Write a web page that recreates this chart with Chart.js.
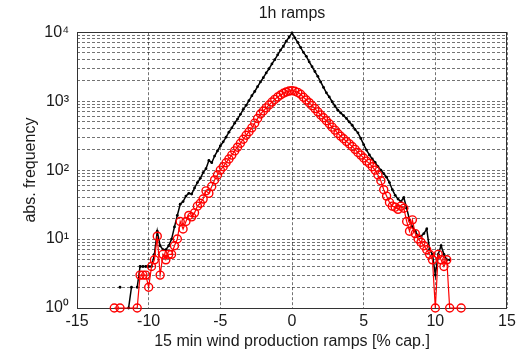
<!DOCTYPE html>
<html>
<head>
<meta charset="utf-8">
<script src="https://cdn.jsdelivr.net/npm/chart.js@4.4.0/dist/chart.umd.min.js"></script>
<style>
  html, body { margin: 0; padding: 0; background: #fff; }
</style>
</head>
<body>
<canvas id="rampChart" width="520" height="354"></canvas>
<script>
// ramp size bins [% of capacity]
const rampBins = [
  -12.4, -12.2, -12.0, -11.8, -11.6, -11.4, -11.2, -11.0, -10.8, -10.6,
  -10.4, -10.2, -10.0, -9.8, -9.6, -9.4, -9.2, -9.0, -8.8, -8.6,
  -8.4, -8.2, -8.0, -7.8, -7.6, -7.4, -7.2, -7.0, -6.8, -6.6,
  -6.4, -6.2, -6.0, -5.8, -5.6, -5.4, -5.2, -5.0, -4.8, -4.6,
  -4.4, -4.2, -4.0, -3.8, -3.6, -3.4, -3.2, -3.0, -2.8, -2.6,
  -2.4, -2.2, -2.0, -1.8, -1.6, -1.4, -1.2, -1.0, -0.8, -0.6,
  -0.4, -0.2, 0, 0.2, 0.4, 0.6, 0.8, 1.0, 1.2, 1.4,
  1.6, 1.8, 2.0, 2.2, 2.4, 2.6, 2.8, 3.0, 3.2, 3.4,
  3.6, 3.8, 4.0, 4.2, 4.4, 4.6, 4.8, 5.0, 5.2, 5.4,
  5.6, 5.8, 6.0, 6.2, 6.4, 6.6, 6.8, 7.0, 7.2, 7.4,
  7.6, 7.8, 8.0, 8.2, 8.4, 8.6, 8.8, 9.0, 9.2, 9.4,
  9.6, 9.8, 10.0, 10.2, 10.4, 10.6, 10.8, 11.0, 11.2, 11.4,
  11.6, 11.8
];

// black: all 15 min ramps (null = empty bin)
const allRamps = [
  null, null, 2, null, null, 1, 2, null, 2, 4,
  4, 4, 4, 4, 6, 13, 8, 7, 7, 8,
  10, 15, 22, 32, 35, 42, 46, 45, 55, 66,
  76, 92, 105, 138, 128, 160, 190, 224, 257, 300,
  355, 410, 480, 550, 645, 760, 870, 1020, 1200, 1380,
  1620, 1900, 2190, 2570, 2950, 3470, 4000, 4700, 5500, 6300,
  7400, 8500, 9800, 8300, 7100, 6000, 5100, 4470, 3720, 3160,
  2690, 2290, 1900, 1580, 1320, 1150, 980, 850, 740, 676,
  617, 562, 500, 447, 389, 347, 288, 234, 195, 166,
  145, 129, 112, 100, 89, 79, 66, 52, 43, 38,
  35, 40, 28, 19, 15, 13, 11, 11, 12, 14,
  7, 6, 3, 6, 8, 6, 5, 5, null, null,
  null, null
];

// red: ramps within the 1h window
const hourRamps = [
  1, null, 1, null, null, null, null, null, 1, 3,
  3, 3, 2, 4, 5, 11, 3, 6, 5, 6,
  6, 8, 10, 18, 14, 18, 22, 21, 24, 30,
  33, 38, 50, 46, 58, 72, 85, 100, 112, 128,
  145, 165, 190, 215, 245, 280, 320, 360, 410, 480,
  560, 650, 720, 800, 880, 970, 1060, 1150, 1230, 1300,
  1360, 1400, 1420, 1390, 1340, 1260, 1140, 1040, 950, 860,
  780, 700, 630, 575, 520, 470, 420, 380, 340, 310,
  285, 260, 240, 220, 200, 180, 165, 150, 135, 125,
  112, 100, 85, 70, 52, 42, 34, 30, 29, 27,
  30, 28, 18, 13, 19, 12, 10, 9, 8, 7,
  6, 5, 1, 6, 5, 4, 5, 1, null, null,
  null, 1
];

// log grid lines and labelled decades
const freqTicks = [
  1, 2, 3, 4, 5, 6, 7, 8, 9,
  10, 20, 30, 40, 50, 60, 70, 80, 90,
  100, 200, 300, 400, 500, 600, 700, 800, 900,
  1000, 2000, 3000, 4000, 5000, 6000, 7000, 8000, 9000,
  10000
];
const decadeLabels = { 1: '10⁰', 10: '10¹', 100: '10²', 1000: '10³', 10000: '10⁴' };

const FONT = "'Liberation Sans', Arial, sans-serif";
const TEXT = '#1a1a1a';
const GRID = 'rgba(0, 0, 0, 0.55)';

function toPoints(values) {
    return rampBins.map((x, i) => ({ x: x, y: values[i] }));
}

const boxPlugin = {
    id: 'axesBox',
    beforeDatasetsDraw(chart) {
        const { ctx, chartArea: a } = chart;
        ctx.save();
        ctx.strokeStyle = '#333';
        ctx.lineWidth = 1;
        ctx.strokeRect(Math.round(a.left) + 0.5, Math.round(a.top) + 0.5,
            Math.round(a.width) - 1, Math.round(a.height));
        ctx.restore();
    }
};

new Chart(document.getElementById('rampChart'), {
    type: 'line',
    data: {
        datasets: [{
            label: '1h',
            data: toPoints(hourRamps),
            borderColor: '#ff0000',
            backgroundColor: 'rgba(0, 0, 0, 0)',
            borderWidth: 1.2,
            pointRadius: 4,
            pointBorderWidth: 1.4,
            pointBorderColor: '#ff0000',
            pointBackgroundColor: 'rgba(0, 0, 0, 0)',
            spanGaps: true,
            clip: false,
            tension: 0
        }, {
            label: 'all',
            data: toPoints(allRamps),
            borderColor: '#000',
            backgroundColor: '#000',
            borderWidth: 1.5,
            pointRadius: 1.4,
            pointBorderWidth: 0,
            pointBackgroundColor: '#000',
            spanGaps: false,
            clip: false,
            tension: 0
        }]
    },
    options: {
        responsive: false,
        animation: false,
        events: [],
        layout: { padding: { left: 0, right: 13, top: 0, bottom: 0 } },
        plugins: {
            legend: { display: false },
            tooltip: { enabled: false },
            title: {
                display: true,
                text: '1h ramps',
                fullSize: false,
                color: TEXT,
                font: { family: FONT, size: 16, weight: 'normal' },
                padding: { top: 4, bottom: 9 }
            }
        },
        scales: {
            x: {
                type: 'linear',
                min: -15,
                max: 15,
                afterFit: s => { s.height = 46; },
                ticks: {
                    stepSize: 5,
                    padding: 4,
                    color: TEXT,
                    font: { family: FONT, size: 16 },
                    maxRotation: 0
                },
                grid: { color: GRID, lineWidth: 1, drawTicks: false },
                border: { display: false, dash: [3, 2] },
                title: {
                    display: true,
                    text: '15 min wind production ramps [% cap.]',
                    color: TEXT,
                    font: { family: FONT, size: 16 },
                    padding: { top: 0, bottom: 3 }
                }
            },
            y: {
                type: 'logarithmic',
                min: 1,
                max: 10000,
                afterFit: s => { s.width = 77; },
                afterBuildTicks: s => { s.ticks = freqTicks.map(v => ({ value: v })); },
                ticks: {
                    autoSkip: false,
                    padding: 8,
                    color: TEXT,
                    font: { family: FONT, size: 16 },
                    callback: v => decadeLabels[v] || ''
                },
                grid: { color: GRID, lineWidth: 1, drawTicks: false },
                border: { display: false, dash: [3, 2] },
                title: {
                    display: true,
                    text: 'abs. frequency',
                    color: TEXT,
                    font: { family: FONT, size: 16 },
                    padding: { top: 21, bottom: 0 }
                }
            }
        }
    },
    plugins: [boxPlugin]
});
</script>
</body>
</html>
